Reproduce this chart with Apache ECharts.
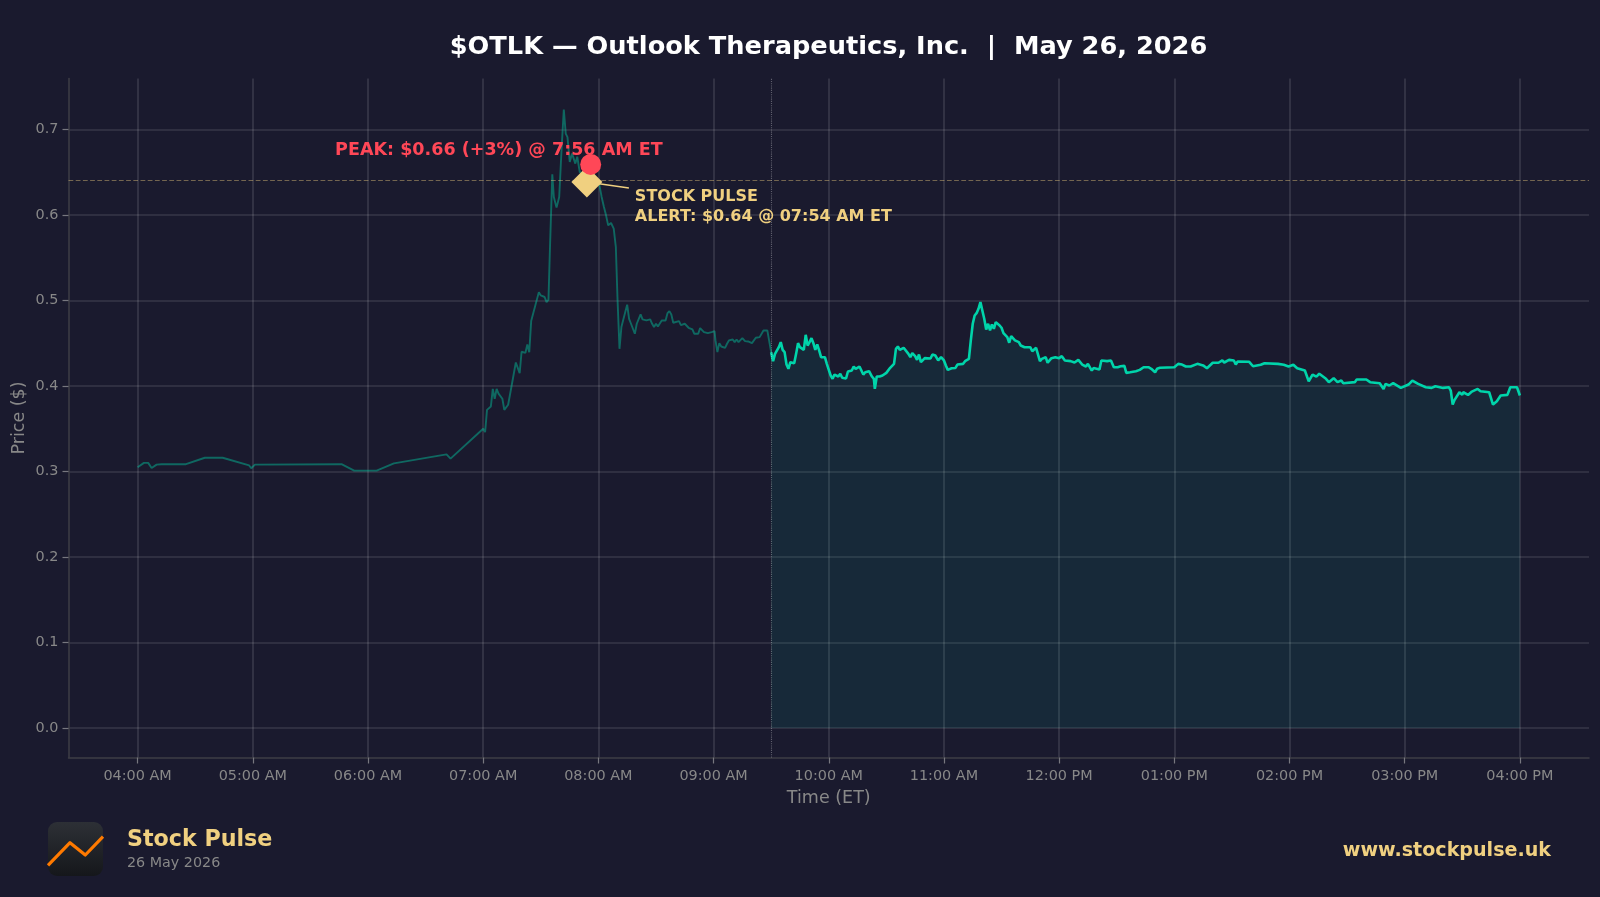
<![CDATA[<!DOCTYPE html>
<html><head><meta charset="utf-8">
<style>html,body{margin:0;padding:0;background:#1a1a2e}#c{width:1600px;height:897px}</style>
<script src="https://cdn.jsdelivr.net/npm/echarts@6/dist/echarts.min.js"></script>
</head><body><div id="c"></div>
<script>
// minutes after 04:00 AM ET
const tickMinutes=[0,60,120,180,240,300,360,420,480,540,600,660,720];
const tickLabels=['04:00 AM','05:00 AM','06:00 AM','07:00 AM','08:00 AM','09:00 AM','10:00 AM','11:00 AM','12:00 PM','01:00 PM','02:00 PM','03:00 PM','04:00 PM'];
const priceTicks=[0,0.1,0.2,0.3,0.4,0.5,0.6,0.7];
const preMinutes=[0,3.3,5.5,7.3,9.9,12.5,25.2,35,44.3,58.1,59.2,61.1,106.2,112.8,124.5,133.5,160.9,163,180,181,182,183,184,185,186,187,188,189,190,191,193,195,197,199,200,202,203,204,205,206,209,210,212,213,214,214.7,216,216.8,218.2,219.6,220.8,222,223,223.9,225.1,226.3,228,229,230.3,232,234,236,238,240.4,241.7,242.9,244,245.1,246.6,248,249.1,250,251,252,253,254,255,256,257,258,259,260,261,262,263,264,265,266,267,268,269,270,271,272,273,274,275,276,277,278,279,280,282,283,285,287,289,290,292,293,295,297,299,300.5,301,302,303,304,305,306,307,308,309,310,311,312,313,315,316.4,318,320,322,324,325,326,328,330];
const prePrices=[.3048,.31,.31,.304,.308,.3085,.3085,.316,.316,.307,.3037,.308,.3085,.301,.301,.3095,.32,.315,.35,.346,.372,.37,.376,.3965,.385,.3965,.391,.3927,.385,.372,.378,.4025,.4274,.415,.44,.4387,.4485,.4395,.4758,.474,.5097,.5058,.504,.498,.5008,.5547,.6475,.621,.6085,.621,.6756,.7233,.695,.691,.662,.6717,.66,.668,.65,.648,.639,.659,.645,.6366,.621,.6093,.5995,.5878,.5905,.584,.5624,.5,.4434,.4688,.4778,.4766,.495,.4785,.4727,.4707,.461,.4727,.4746,.4836,.4778,.4785,.4766,.4746,.4778,.4727,.4688,.4727,.4696,.4707,.4766,.4757,.4766,.4851,.4875,.4836,.4739,.4739,.4757,.4711,.4727,.468,.466,.461,.461,.4676,.4629,.4618,.4629,.464,.4532,.4395,.45,.4461,.4469,.4446,.4493,.4532,.452,.4543,.4512,.4543,.4512,.4559,.4524,.452,.45,.4563,.4571,.459,.4649,.4649,.4395];
const regMinutes=[330,331,332,333,334,335,336,337,338,339,340,341,342,343,344,345,346,347,348,349,350,351,352,353,354,355,356,357,358,359,360,361,362,363,364,365,366,367,368,369,370,371,372,373,374,375,376,377,378,379,381,382.5,383.5,384,385,386.5,388,390,392,394,395,396,397,398,399,400,401.5,402.5,403.5,405,406,407,408,409,410,413,414,415.5,417,418.5,420,421,422,423,424,425,426,427,428,430,431,432,433,434,435,436,437,438,439,440,441,442,443,444,445,446,447,448,449,450,451,452,453,454,455,456,457,459,460,462,463,465,466,468,469,470,471,472,473,474,475,476,478,480,481.4,483,486,488,490,492,493,494,495,497,498,501,502,503,505,507,508.5,510.5,512,514,515,517,520,522,524,526.5,528,530,531,532.5,540,542,544,546,548.5,552,555,557,560,563,565,566,568.5,571,572,573,579,581,585,587,594,597,599.5,602,604,608,610,612,614,615.5,619,620.5,623,625,627,628,634,635,640,642,647,649,650,652,654,658,662,664,667,671,672,674,676,680,683,684,685,686,688.5,690,690.5,693,695,698,699.5,704,706,708,710,711,713.5,715,718.5,719.5,720];
const regPrices=[.4395,.429,.4375,.4395,.4453,.4512,.4422,.4395,.425,.42,.4278,.4258,.4266,.4375,.45,.4453,.4434,.4422,.4598,.4473,.4512,.4559,.45,.4422,.4485,.4415,.4336,.4317,.4336,.4258,.4239,.4122,.4083,.4133,.411,.411,.4142,.4095,.4087,.4087,.4169,.4172,.418,.4227,.42,.421,.4227,.418,.4133,.416,.4172,.411,.4083,.3965,.411,.411,.4122,.4153,.4212,.4258,.4434,.4461,.4422,.4403,.4446,.4453,.4375,.4336,.4383,.4348,.4305,.4368,.4278,.4278,.4325,.4321,.4368,.4356,.4298,.4336,.4298,.4239,.4188,.4192,.4207,.42,.421,.425,.4258,.4258,.429,.4286,.4317,.4532,.4727,.4824,.4851,.4902,.498,.4883,.4785,.466,.4727,.4649,.4719,.4668,.4746,.4727,.4707,.468,.4618,.463,.457,.4505,.4582,.459,.4532,.4512,.4473,.4453,.4473,.4453,.4406,.4446,.4446,.429,.4317,.4317,.4336,.4271,.4298,.4325,.4336,.4325,.4348,.4298,.429,.4274,.4305,.425,.4258,.4227,.4258,.418,.421,.4192,.4298,.429,.429,.4298,.4219,.4219,.423,.4235,.4153,.416,.4172,.4188,.4219,.4219,.42,.416,.42,.4212,.4219,.4258,.425,.4227,.4227,.4258,.424,.4207,.4271,.4271,.4298,.4274,.4305,.4298,.425,.4286,.4282,.423,.4247,.4266,.4258,.4247,.4227,.4247,.4207,.418,.4055,.4133,.4109,.4142,.4083,.4044,.4091,.4044,.4063,.4032,.4044,.4075,.4075,.4044,.4032,.3965,.4024,.4005,.4032,.3977,.4016,.4063,.4024,.3985,.4005,.3977,.3997,.3977,.3985,.3946,.3782,.3837,.3926,.3895,.3926,.3895,.3934,.3965,.3938,.3926,.3782,.382,.3888,.3876,.3895,.3985,.3985,.3993,.3888];
const alertPoint=[234,0.6385];
const peakPoint=[236,0.659];
const alertLeader=[[234,0.6385],[255.9,0.6315]];
const sessionOpen=330;

const zip=(a,b)=>a.map((v,i)=>[v,b[i]]);
const FONT='"DejaVu Sans"';
const chart=echarts.init(document.getElementById('c'),null,{renderer:'canvas'});
chart.setOption({
 animation:false,
 backgroundColor:'#1a1a2e',
 title:{text:'$OTLK — Outlook Therapeutics, Inc.  |  May 26, 2026',left:823.5,top:42,textAlign:'center',textVerticalAlign:'middle',
   textStyle:{color:'#ffffff',fontFamily:FONT,fontWeight:'bold',fontSize:25.65}},
 grid:{left:68.5,right:11,top:78.5,bottom:139.5,containLabel:false,outerBoundsMode:'none'},
 xAxis:{type:'value',min:-36,max:756,name:'Time (ET)',nameLocation:'middle',nameGap:32,
   nameTextStyle:{color:'#888888',fontFamily:FONT,fontSize:17.5},
   axisLine:{show:true,onZero:false,lineStyle:{color:'#3e3e46',width:1.5}},
   axisTick:{show:true,length:6,customValues:tickMinutes,lineStyle:{color:'#77777f',width:1.2}},
   axisLabel:{color:'#888888',fontFamily:FONT,fontSize:14.4,margin:11.5,customValues:tickMinutes,
     formatter:v=>tickLabels[tickMinutes.indexOf(v)]||''},
   splitLine:{show:true,lineStyle:{color:'rgba(255,255,255,0.14)',width:1.5}}},
 yAxis:{type:'value',min:-0.0345,max:0.7595,name:'Price ($)',nameLocation:'middle',nameGap:40,nameMoveOverlap:false,
   nameTextStyle:{color:'#888888',fontFamily:FONT,fontSize:17.5},
   axisLine:{show:true,onZero:false,lineStyle:{color:'#3e3e46',width:1.5}},
   axisTick:{show:true,length:6,customValues:priceTicks,lineStyle:{color:'#77777f',width:1.2}},
   axisLabel:{color:'#888888',fontFamily:FONT,fontSize:14.4,margin:10,customValues:priceTicks,
     formatter:v=>v.toFixed(1)},
   splitLine:{show:true,lineStyle:{color:'rgba(255,255,255,0.13)',width:1.6}}},
 series:[
  {name:'Pre-market',type:'line',data:zip(preMinutes,prePrices),symbol:'none',silent:true,z:3,
   lineStyle:{color:'#00d4aa',opacity:0.42,width:1.9},
   markLine:{silent:true,symbol:'none',label:{show:false},animation:false,data:[
     {yAxis:alertPoint[1],lineStyle:{color:'rgba(240,208,128,0.42)',type:'dashed',width:1.2}},
     {xAxis:sessionOpen,lineStyle:{color:'rgba(255,255,255,0.3)',type:'dotted',width:1.1}}]}},
  {name:'Regular',type:'line',data:zip(regMinutes,regPrices),symbol:'none',silent:true,z:4,
   lineStyle:{color:'#00d4aa',width:2.6},
   areaStyle:{color:'#00d4aa',opacity:0.085,origin:0}},
  {name:'Leader',type:'line',data:alertLeader,symbol:'none',silent:true,z:5,
   lineStyle:{color:'#f0d080',width:1.4}},
  {name:'Alert',type:'scatter',data:[alertPoint],symbol:'diamond',symbolSize:31,silent:true,z:6,
   itemStyle:{color:'#f0d080',opacity:1},
   label:{show:true,position:'right',distance:0,offset:[32.5,25],color:'#f0d080',opacity:1,fontFamily:FONT,fontWeight:'bold',fontSize:16,lineHeight:19.5,align:'left',
     formatter:'STOCK PULSE\nALERT: $0.64 @ 07:54 AM ET'}},
  {name:'Peak',type:'scatter',data:[peakPoint],symbol:'circle',symbolSize:21,silent:true,z:7,
   itemStyle:{color:'#ff4757',opacity:1},
   label:{show:true,position:'left',distance:0,offset:[82.5,-14],color:'#ff4757',opacity:1,fontFamily:FONT,fontWeight:'bold',fontSize:17.55,
     formatter:'PEAK: $0.66 (+3%) @ 7:56 AM ET'}}
 ],
 graphic:[
  {type:'rect',shape:{x:48,y:822,width:55,height:54,r:9},
   style:{fill:new echarts.graphic.LinearGradient(0,0,0,1,[{offset:0,color:'#2d3036'},{offset:1,color:'#15171b'}])}},
  {type:'polyline',shape:{points:[[48,865.3],[70,842.7],[85.3,855],[103,836.7]]},
   style:{stroke:'#ff7a00',lineWidth:3.2,fill:null,lineJoin:'round'}},
  {type:'text',style:{x:127,y:840,text:'Stock Pulse',fill:'#f0d080',font:'bold 22.2px "DejaVu Sans"',textVerticalAlign:'middle'}},
  {type:'text',style:{x:127,y:863.5,text:'26 May 2026',fill:'#888888',font:'14.3px "DejaVu Sans"',textVerticalAlign:'middle'}},
  {type:'text',style:{x:1551,y:851.5,text:'www.stockpulse.uk',fill:'#f0d080',font:'bold 19.1px "DejaVu Sans"',textAlign:'right',textVerticalAlign:'middle'}}
 ]
});
</script></body></html>]]>
